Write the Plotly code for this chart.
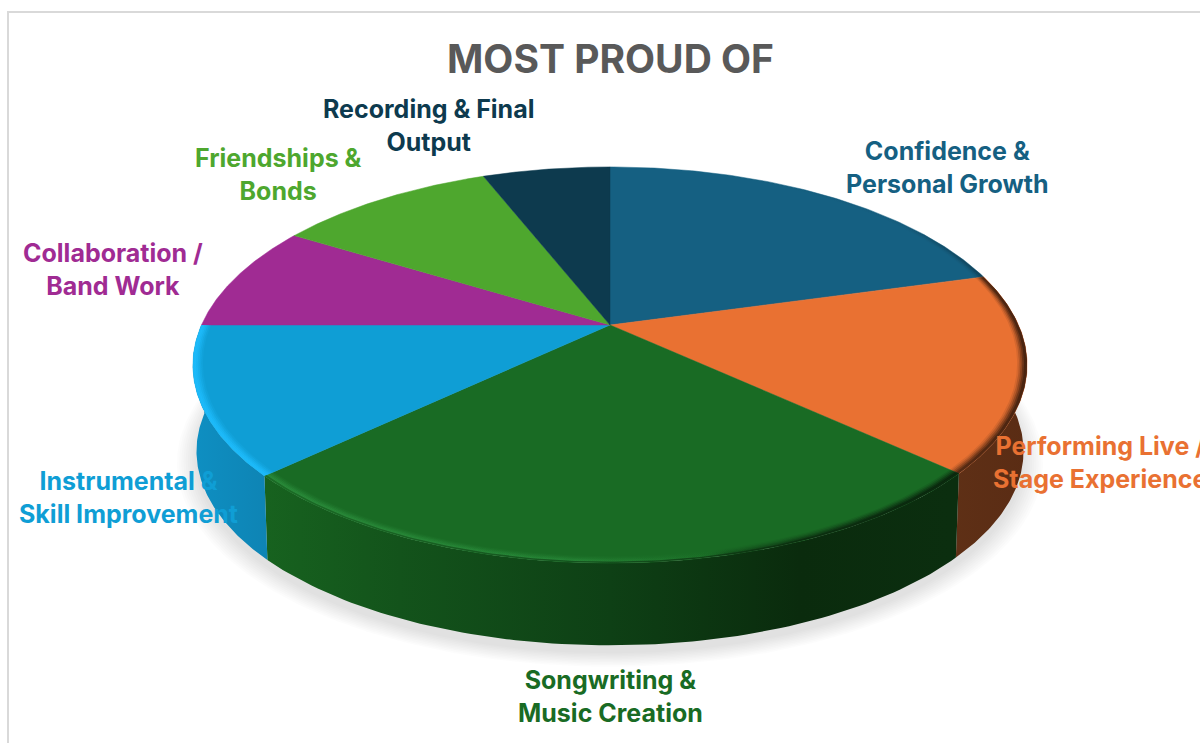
import numpy as np
import plotly.graph_objects as go

# Survey shares, clockwise from twelve o'clock
categories = [
    "Confidence &<br>Personal Growth",
    "Performing Live /<br>Stage Experience",
    "Songwriting &<br>Music Creation",
    "Instrumental &<br>Skill Improvement",
    "Collaboration /<br>Band Work",
    "Friendships &<br>Bonds",
    "Recording & Final<br>Output",
]
shares = [20.7, 16.1, 26.2, 12.0, 8.7, 10.3, 6.0]
slice_colors = ["#156082", "#E97132", "#196B24", "#0F9ED5", "#A02B93", "#4EA72E", "#0D3A4E"]
chart_title = "MOST PROUD OF"

# Centre of each label on the canvas
label_anchors = [(947, 167), (1100, 462), (610, 696), (128, 497), (113, 269), (278, 174), (428, 125)]

# Perspective disc: the near edge reads larger than the far edge
CX = 610.0
TOP_CY, TOP_A, TOP_B = 325.0, 408.5, 190.0
BASE_CY, BASE_A, BASE_B = 412.0, 405.0, 186.2
TILT = 0.202

# Side walls shade from left to right; only front-facing slices have one
wall_ramps = {
    1: [(945, "#5f3016"), (1030, "#5a2c14")],
    2: [(265, "#17621f"), (400, "#13531b"), (610, "#0e4015"), (800, "#0a2b0d"), (950, "#0b2e0f")],
    3: [(193, "#0e8fc2"), (275, "#0e83b3")],
}

# Bevel overlays along the rim: (x, rgb, strength)
LEAF = "47,150,66"
SKY = "30,190,255"
BLACK = "0,0,0"
rim_ramps = {
    0: [(610, BLACK, 0.0), (900, BLACK, 0.03), (985, BLACK, 0.2)],
    1: [(945, BLACK, 0.5), (1030, BLACK, 0.6)],
    2: [(265, LEAF, 0.7), (560, LEAF, 0.5), (700, LEAF, 0.08),
        (730, BLACK, 0.15), (850, BLACK, 0.45), (955, BLACK, 0.6)],
    3: [(193, SKY, 0.9), (275, SKY, 0.9)],
}
rim_bands = [(0.977, 0.15), (0.981, 0.25), (0.985, 0.35), (0.989, 0.45), (0.993, 0.5)]


def project(theta, radius=1.0, cy=TOP_CY, a=TOP_A, b=TOP_B):
    """Map a clockwise-from-top angle on the disc to canvas coordinates."""
    ux, uy = radius * np.sin(theta), radius * np.cos(theta)
    w = 1 + TILT * uy
    return CX + a * ux / w, cy - b * uy / w


def ramp_scale(ramp, x0, x1):
    span = x1 - x0
    return [[min(max((p[0] - x0) / span, 0), 1)] + list(p[1:]) for p in ramp]


fig = go.Figure()


def add_poly(xs, ys, **kw):
    fig.add_trace(go.Scatter(x=xs, y=ys, mode="lines", fill="toself", showlegend=False,
                             hoverinfo="skip", **kw))


# Soft ground shadow under the base
full = np.linspace(0, 2 * np.pi, 361)
for grow in np.linspace(1.045, 1.0, 10):
    sx, sy = project(full, grow, BASE_CY + 8, BASE_A, BASE_B)
    add_poly(sx, sy, line=dict(width=0), fillcolor="rgba(120,120,120,0.025)")

edges = np.cumsum([0] + shares) / sum(shares) * 2 * np.pi

# Side walls
for i, ramp in wall_ramps.items():
    th = np.linspace(edges[i], edges[i + 1], 90)
    tx, ty = project(th)
    bx, by = project(th[::-1], 1.0, BASE_CY, BASE_A, BASE_B)
    x0, x1 = ramp[0][0], ramp[-1][0]
    add_poly(np.r_[tx, bx], np.r_[ty, by], line=dict(width=0),
             fillgradient=dict(type="horizontal", start=x0, stop=x1,
                               colorscale=ramp_scale(ramp, x0, x1)))

# Top surface
for i, color in enumerate(slice_colors):
    th = np.linspace(edges[i], edges[i + 1], 120)
    x, y = project(th)
    add_poly(np.r_[CX, x, CX], np.r_[TOP_CY, y, TOP_CY],
             line=dict(width=0.5, color=color), fillcolor=color)

# Bevel along the front rim
for i, ramp in rim_ramps.items():
    th = np.linspace(edges[i], edges[i + 1], 120)
    x0, x1 = ramp[0][0], ramp[-1][0]
    for inner, weight in rim_bands:
        ox, oy = project(th)
        ix, iy = project(th[::-1], inner)
        stops = [[p, f"rgba({rgb},{strength * weight:.3f})"]
                 for p, rgb, strength in ramp_scale(ramp, x0, x1)]
        add_poly(np.r_[ox, ix], np.r_[oy, iy], line=dict(width=0),
                 fillgradient=dict(type="horizontal", start=x0, stop=x1, colorscale=stops))

# The rim of the largest slice melts into its wall
th = np.linspace(edges[2], edges[3], 120)
ox, oy = project(th)
ix, iy = project(th[::-1], 0.995)
ramp = wall_ramps[2]
add_poly(np.r_[ox, ix], np.r_[oy, iy], line=dict(width=0), opacity=0.75,
         fillgradient=dict(type="horizontal", start=ramp[0][0], stop=ramp[-1][0],
                           colorscale=ramp_scale(ramp, ramp[0][0], ramp[-1][0])))

annotations = [
    dict(x=ax, y=ay, xref="x", yref="y", text=f"<b>{name}</b>", showarrow=False,
         font=dict(family="Inter", size=25, color=color), align="center")
    for name, (ax, ay), color in zip(categories, label_anchors, slice_colors)
]
annotations.append(dict(x=610, y=58, xref="x", yref="y", text=f"<b>{chart_title}</b>",
                        showarrow=False, font=dict(family="Inter", size=39, color="#595959")))

fig.update_layout(
    width=1200, height=743, margin=dict(l=0, r=0, t=0, b=0),
    paper_bgcolor="white", plot_bgcolor="white", showlegend=False,
    xaxis=dict(range=[0, 1200], visible=False, fixedrange=True),
    yaxis=dict(range=[743, 0], visible=False, fixedrange=True),
    annotations=annotations,
    shapes=[dict(type="rect", xref="x", yref="y", x0=8, y0=12, x1=1230, y1=780,
                 line=dict(color="#D9D9D9", width=2), layer="below")],
)

fig.write_html("out.html", config=dict(displayModeBar=False))
